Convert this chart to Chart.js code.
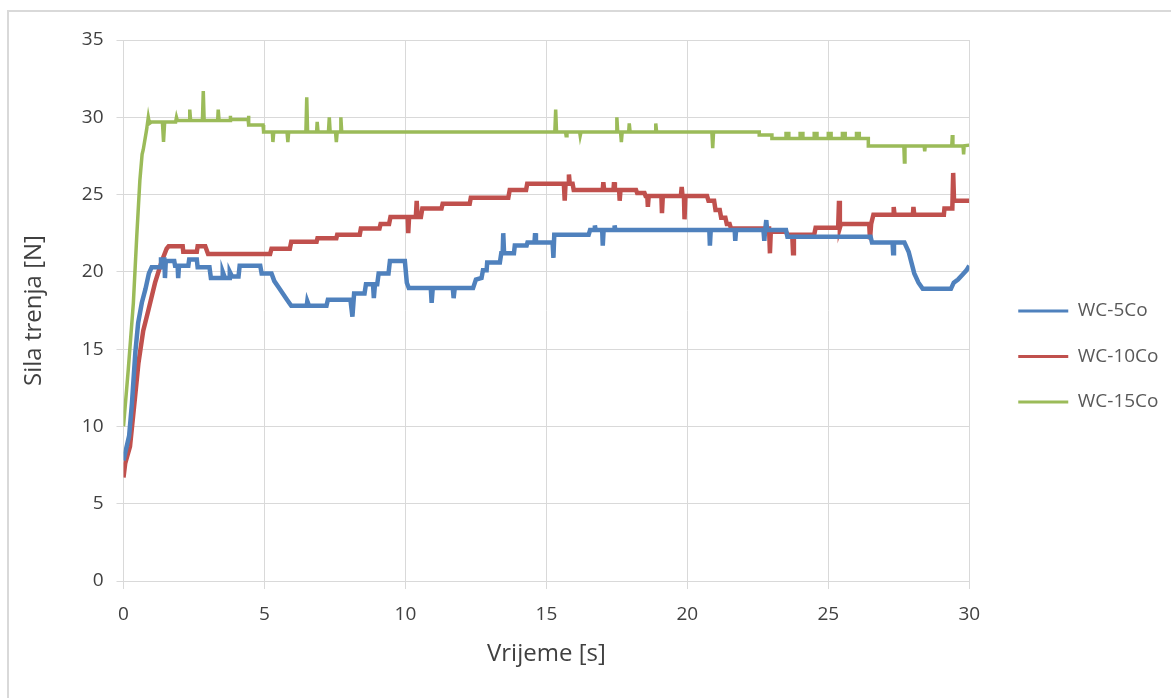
<!DOCTYPE html>
<html>
<head>
<meta charset="utf-8">
<script src="https://cdn.jsdelivr.net/npm/chart.js"></script>
<style>
    html, body { margin: 0; padding: 0; background: #fff; }
    #wrap { position: relative; width: 1171px; height: 698px; overflow: hidden; }
    #frame {
        position: absolute; left: 7px; top: 10px; right: -10px; bottom: -10px;
        border-top: 2px solid #d9d9d9; border-left: 2px solid #d9d9d9;
    }
    #myChart { position: absolute; left: 0; top: 0; }
</style>
</head>
<body>
<div id="wrap">
    <div id="frame"></div>
    <canvas id="myChart" width="1171" height="698"></canvas>
</div>
<script>
// =============================================
// Sila trenja vs. vrijeme (WC-Co)
// values, [t (s), F (N)]
// =============================================

const seriesNames = ["WC-5Co", "WC-10Co", "WC-15Co"];
const seriesColors = ["#4f81bd", "#c0504d", "#9bbb59"];

const xTicks = [0, 5, 10, 15, 20, 25, 30];
const yTicks = [0, 5, 10, 15, 20, 25, 30, 35];

const wc5 = [
    [0, 7.8], [0.1, 8.6], [0.2, 9.4], [0.3, 11.5], [0.42, 14.8], [0.52, 16.7], [0.65, 18.0],
    [0.78, 18.9], [0.9, 19.9], [1.0, 20.3], [1.3, 20.3], [1.33, 20.8], [1.45, 20.8], [1.47, 19.6],
    [1.5, 20.7], [1.8, 20.7], [1.83, 20.4], [1.92, 20.4], [1.94, 19.6], [1.97, 20.4], [2.3, 20.4],
    [2.33, 20.8], [2.6, 20.8], [2.63, 20.3], [3.05, 20.3], [3.1, 19.6], [3.5, 19.6], [3.52, 20.0],
    [3.6, 19.6], [3.75, 19.6], [3.77, 20.0], [3.85, 19.7], [4.08, 19.7], [4.12, 20.4], [4.85, 20.4],
    [4.9, 19.9], [5.25, 19.9], [5.35, 19.4], [5.5, 19.0], [5.65, 18.6], [5.8, 18.2], [5.95, 17.8],
    [6.5, 17.8], [6.52, 18.1], [6.58, 17.8], [7.2, 17.8], [7.25, 18.2], [8.05, 18.2], [8.12, 17.1],
    [8.18, 18.6], [8.55, 18.6], [8.6, 19.2], [8.85, 19.2], [8.88, 18.3], [8.92, 19.2], [9.0, 19.2],
    [9.05, 19.9], [9.4, 19.9], [9.45, 20.7], [9.98, 20.7], [10.05, 19.3], [10.12, 18.95],
    [10.9, 18.95], [10.93, 18.0], [10.97, 18.95], [11.68, 18.95], [11.71, 18.3], [11.75, 18.95],
    [12.4, 18.95], [12.5, 19.5], [12.7, 19.6], [12.75, 20.1], [12.88, 20.1], [12.9, 20.6],
    [13.35, 20.6], [13.4, 21.2], [13.45, 21.2], [13.47, 22.5], [13.5, 21.2], [13.85, 21.2],
    [13.88, 21.7], [14.3, 21.7], [14.33, 21.9], [14.58, 21.9], [14.6, 22.5], [14.63, 21.9],
    [15.22, 21.9], [15.25, 20.9], [15.28, 22.4], [16.5, 22.4], [16.55, 22.7], [16.7, 22.7],
    [16.72, 23.0], [16.75, 22.7], [16.98, 22.7], [17.0, 21.7], [17.03, 22.7], [17.4, 22.7],
    [17.42, 23.0], [17.45, 22.7], [20.78, 22.7], [20.8, 21.7], [20.83, 22.7], [21.68, 22.7],
    [21.7, 22.0], [21.73, 22.7], [22.7, 22.7], [22.73, 22.0], [22.76, 22.7], [22.8, 23.35],
    [22.83, 22.7], [23.5, 22.7], [23.55, 22.27], [26.5, 22.27], [26.55, 21.9], [27.28, 21.9],
    [27.3, 21.2], [27.33, 21.9], [27.7, 21.9], [27.85, 21.3], [27.95, 20.6], [28.05, 19.9],
    [28.2, 19.3], [28.35, 18.9], [29.35, 18.9], [29.45, 19.3], [29.6, 19.5], [29.75, 19.8],
    [29.9, 20.1], [30, 20.4]
];

const wc10 = [
    [0, 6.7], [0.06, 7.6], [0.12, 8.0], [0.23, 8.7], [0.41, 11.9], [0.53, 14.1], [0.7, 16.2],
    [0.88, 17.5], [1.12, 19.3], [1.35, 20.65], [1.53, 21.5], [1.6, 21.65], [2.1, 21.65],
    [2.12, 21.3], [2.6, 21.3], [2.63, 21.65], [2.9, 21.65], [3.0, 21.15], [5.2, 21.15],
    [5.25, 21.5], [5.9, 21.5], [5.95, 21.95], [6.85, 21.95], [6.88, 22.17], [7.55, 22.17],
    [7.58, 22.4], [8.38, 22.4], [8.42, 22.8], [9.08, 22.8], [9.12, 23.1], [9.42, 23.1],
    [9.47, 23.55], [10.08, 23.55], [10.1, 22.5], [10.13, 23.55], [10.37, 23.55], [10.4, 24.6],
    [10.43, 23.55], [10.55, 23.55], [10.6, 24.1], [11.28, 24.1], [11.32, 24.4], [12.28, 24.4],
    [12.32, 24.8], [13.65, 24.8], [13.7, 25.3], [14.28, 25.3], [14.32, 25.7], [15.62, 25.7],
    [15.65, 24.6], [15.68, 25.7], [15.78, 25.7], [15.8, 26.3], [15.83, 25.7], [15.93, 25.7],
    [15.97, 25.3], [17.0, 25.3], [17.02, 25.8], [17.05, 25.3], [17.38, 25.3], [17.4, 25.8],
    [17.43, 25.3], [17.58, 25.3], [17.6, 24.6], [17.63, 25.3], [18.18, 25.3], [18.22, 25.1],
    [18.48, 25.1], [18.52, 24.9], [18.58, 24.9], [18.6, 24.2], [18.63, 24.9], [19.08, 24.9],
    [19.1, 23.8], [19.13, 24.9], [19.77, 24.9], [19.8, 25.5], [19.83, 24.9], [19.88, 24.9],
    [19.9, 23.4], [19.93, 24.9], [20.7, 24.9], [20.75, 24.6], [20.95, 24.6], [21.0, 24.0],
    [21.15, 24.0], [21.2, 23.5], [21.35, 23.5], [21.4, 23.1], [21.5, 23.1], [21.55, 22.8],
    [22.9, 22.8], [22.93, 21.2], [22.96, 22.6], [23.5, 22.6], [23.55, 22.4], [23.72, 22.4],
    [23.75, 21.2], [23.78, 22.4], [24.5, 22.4], [24.55, 22.85], [25.35, 22.85], [25.38, 24.6],
    [25.41, 22.85], [25.45, 23.1], [26.45, 23.1], [26.48, 22.1], [26.52, 23.1], [26.6, 23.7],
    [27.3, 23.7], [27.32, 24.2], [27.35, 23.7], [28.0, 23.7], [28.02, 24.2], [28.05, 23.7],
    [29.1, 23.7], [29.12, 24.1], [29.4, 24.1], [29.43, 26.4], [29.46, 24.6], [30, 24.6]
];

const wc15 = [
    [0, 10.0], [0.17, 13.7], [0.35, 18.0], [0.47, 22.3], [0.58, 25.9], [0.66, 27.6], [0.7, 27.9],
    [0.82, 29.2], [0.88, 30.0], [0.92, 29.6], [1.0, 29.7], [1.38, 29.7], [1.42, 28.4], [1.46, 29.7],
    [1.85, 29.7], [1.88, 30.0], [1.91, 29.8], [2.33, 29.8], [2.35, 30.5], [2.38, 29.8], [2.8, 29.8],
    [2.83, 31.7], [2.86, 29.8], [3.34, 29.8], [3.36, 30.5], [3.39, 29.8], [3.78, 29.8],
    [3.78, 30.1], [3.8, 30.1], [3.8, 29.85], [4.42, 29.85], [4.42, 30.1], [4.45, 30.1],
    [4.45, 29.5], [4.95, 29.5], [4.97, 29.05], [5.28, 29.05], [5.3, 28.4], [5.33, 29.05],
    [5.8, 29.05], [5.83, 28.4], [5.86, 29.05], [6.47, 29.05], [6.5, 31.3], [6.53, 29.05],
    [6.85, 29.05], [6.87, 29.7], [6.9, 29.05], [7.27, 29.05], [7.3, 30.0], [7.33, 29.05],
    [7.52, 29.05], [7.55, 28.4], [7.58, 29.05], [7.69, 29.05], [7.71, 30.0], [7.74, 29.05],
    [15.3, 29.05], [15.33, 30.5], [15.36, 29.05], [15.68, 29.05], [15.7, 28.8], [15.73, 29.05],
    [16.18, 29.05], [16.2, 28.8], [16.23, 29.05], [17.47, 29.05], [17.5, 30.0], [17.53, 29.05],
    [17.63, 29.05], [17.66, 28.4], [17.69, 29.05], [17.92, 29.05], [17.94, 29.6], [17.97, 29.05],
    [18.86, 29.05], [18.88, 29.6], [18.91, 29.05], [20.87, 29.05], [20.9, 28.0], [20.93, 29.05],
    [22.55, 29.05], [22.55, 28.85], [23.0, 28.85], [23.0, 28.63],
    [23.5, 28.63], [23.5, 28.95], [23.6, 28.95], [23.6, 28.63],
    [24.0, 28.63], [24.0, 28.95], [24.1, 28.95], [24.1, 28.63],
    [24.5, 28.63], [24.5, 28.95], [24.6, 28.95], [24.6, 28.63],
    [25.0, 28.63], [25.0, 28.95], [25.1, 28.95], [25.1, 28.63],
    [25.5, 28.63], [25.5, 28.95], [25.6, 28.95], [25.6, 28.63],
    [26.0, 28.63], [26.0, 28.95], [26.1, 28.95], [26.1, 28.63],
    [26.42, 28.63], [26.42, 28.15], [27.68, 28.15], [27.7, 27.1], [27.72, 28.15],
    [28.4, 28.15], [28.42, 27.8], [28.44, 28.15], [29.38, 28.15], [29.4, 28.85], [29.42, 28.15],
    [29.78, 28.15], [29.8, 27.6], [29.82, 28.15], [30, 28.2]
];

const seriesData = [wc5, wc10, wc15];
const seriesWidths = [4.5, 4.5, 3.5];

const gridColor = "#d9d9d9";
const textColor = "#404040";
const fontFamily = "'Open Sans', 'DejaVu Sans', sans-serif";

function makeDataset(i) {
    return {
        label: seriesNames[i],
        data: seriesData[i],
        borderColor: seriesColors[i],
        backgroundColor: seriesColors[i],
        borderWidth: seriesWidths[i],
        pointRadius: 0,
        pointHoverRadius: 0,
        tension: 0,
        fill: false,
    };
}

const config = {
    type: "line",
    data: { datasets: seriesNames.map((_, i) => makeDataset(i)) },
    options: {
        responsive: false,
        animation: false,
        events: [],
        layout: { padding: { left: 8, top: 40, right: 2.5, bottom: 25 } },
        scales: {
            x: {
                type: "linear",
                min: 0,
                max: 30,
                afterFit: (s) => { s.height = 92; },
                afterBuildTicks: (s) => { s.ticks = xTicks.map((v) => ({ value: v })); },
                ticks: { color: textColor, font: { family: fontFamily, size: 19 }, padding: 14 },
                grid: { color: gridColor, lineWidth: 1, tickLength: 8, tickColor: gridColor },
                border: { color: gridColor },
                title: {
                    display: true,
                    text: "Vrijeme [s]",
                    color: textColor,
                    font: { family: fontFamily, size: 24 },
                    padding: { top: 0, bottom: 4 },
                },
            },
            y: {
                min: 0,
                max: 35,
                afterFit: (s) => { s.width = 115.5; },
                afterBuildTicks: (s) => { s.ticks = yTicks.map((v) => ({ value: v })); },
                ticks: { color: textColor, font: { family: fontFamily, size: 19 }, padding: 13 },
                grid: { color: gridColor, lineWidth: 1, tickLength: 7, tickColor: gridColor },
                border: { color: gridColor },
                title: {
                    display: true,
                    text: "Sila trenja [N]",
                    color: textColor,
                    font: { family: fontFamily, size: 24 },
                    padding: { top: 12, bottom: 0 },
                },
            },
            // empty axis, only keeps the plot away from the legend
            gap: {
                type: "linear",
                position: "right",
                display: true,
                afterFit: (s) => { s.width = 22.5; },
                ticks: { display: false },
                grid: { display: false, drawTicks: false },
                border: { display: false },
            },
        },
        plugins: {
            tooltip: { enabled: false },
            legend: {
                position: "right",
                labels: {
                    usePointStyle: true,
                    pointStyle: "line",
                    pointStyleWidth: 50,
                    padding: 26.5,
                    color: "#595959",
                    font: { family: fontFamily, size: 19 },
                    generateLabels: (chart) => {
                        const items = Chart.defaults.plugins.legend.labels.generateLabels(chart);
                        items.forEach((it) => { it.lineWidth = 3; });
                        return items;
                    },
                },
            },
        },
    },
};

const myChart = new Chart(document.getElementById("myChart"), config);
</script>
</body>
</html>
